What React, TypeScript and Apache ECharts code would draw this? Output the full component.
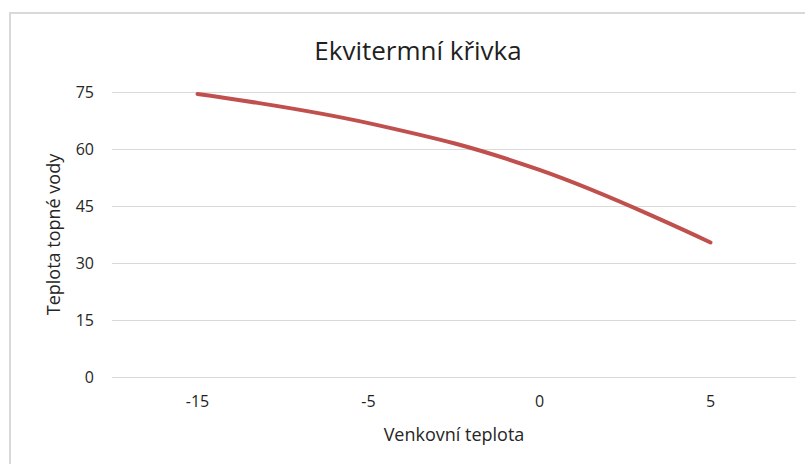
import React, { useEffect, useRef } from "react";
import * as echarts from "echarts";

const categories = ["-15", "-5", "0", "5"];
const supplyTemp = [74.5, 66.8, 54.5, 35.4];
const yMin = 0;
const yMax = 75;
const yStep = 15;

const titleText = "Ekvitermní křivka";
const xName = "Venkovní teplota";
const yName = "Teplota topné vody";

const FONT = "'Open Sans', 'Liberation Sans', sans-serif";

export default function App() {
  const ref = useRef<HTMLDivElement>(null);
  useEffect(() => {
    if (!ref.current) return;
    const chart = echarts.init(ref.current, undefined, { renderer: "svg" });
    chart.setOption({
      animation: false,
      backgroundColor: "#ffffff",
      title: {
        text: titleText,
        left: 413,
        top: 32,
        textAlign: "center",
        textStyle: { fontFamily: FONT, fontSize: 26, fontWeight: "normal", color: "#1f1f1f" },
      },
      graphic: [
        {
          type: "rect",
          shape: { x: 10, y: 13, width: 820, height: 470 },
          style: { fill: "none", stroke: "#d9d9d9", lineWidth: 2 },
          silent: true,
        },
      ],
      grid: { left: 112, right: 9, top: 92, bottom: 87, containLabel: false },
      xAxis: {
        type: "category",
        data: categories,
        boundaryGap: true,
        name: xName,
        nameLocation: "middle",
        nameGap: 48,
        nameTextStyle: { fontFamily: FONT, fontSize: 18, color: "#262626" },
        axisLine: { show: false },
        axisTick: { show: false },
        axisLabel: { fontFamily: FONT, fontSize: 16, color: "#1f1f1f", margin: 16 },
        splitLine: { show: false },
      },
      yAxis: {
        type: "value",
        min: yMin,
        max: yMax,
        interval: yStep,
        name: yName,
        nameLocation: "middle",
        nameRotate: 90,
        nameGap: 50,
        nameTextStyle: { fontFamily: FONT, fontSize: 18, color: "#262626" },
        axisLine: { show: false },
        axisTick: { show: false },
        axisLabel: { fontFamily: FONT, fontSize: 16, color: "#262626", margin: 18 },
        splitLine: { show: true, lineStyle: { color: "#d9d9d9", width: 1 } },
      },
      series: [
        {
          type: "line",
          data: supplyTemp,
          smooth: 0.4,
          showSymbol: false,
          symbol: "none",
          lineStyle: { color: "#c0504d", width: 4, cap: "round" },
        },
      ],
    });
    return () => chart.dispose();
  }, []);
  return (
    <div
      ref={ref}
      style={{ position: "absolute", left: 0, top: 0, width: 805, height: 464 }}
    />
  );
}
